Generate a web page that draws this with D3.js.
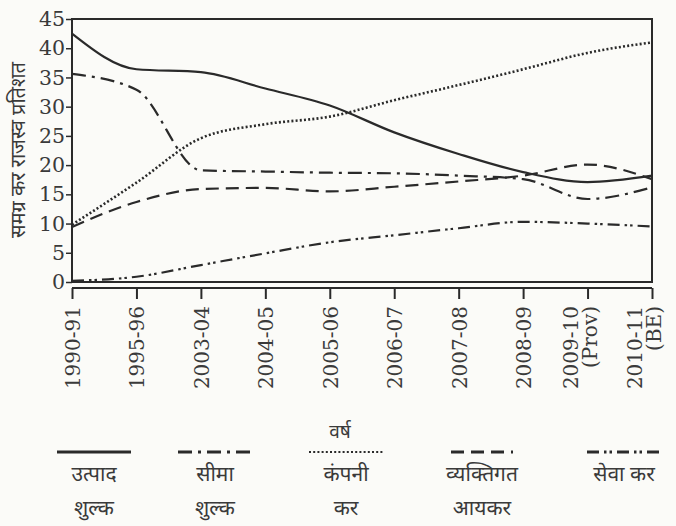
<!DOCTYPE html>
<html>
<head>
<meta charset="utf-8">
<script src="https://cdn.jsdelivr.net/npm/d3@7"></script>
<style>
  body { margin: 0; background: #fbfbf8; }
  svg { display: block; }
  .tick-label { font-family: "DejaVu Serif", "Liberation Serif", serif; fill: #3a3a3a; }
  .hindi { font-family: "Noto Sans", "Lohit Devanagari", "FreeSerif", sans-serif; fill: #3a3a3a; }
</style>
</head>
<body>
<div id="chart"></div>
<script>

// data (% of gross tax revenue)
var years = ["1990-91", "1995-96", "2003-04", "2004-05", "2005-06",
             "2006-07", "2007-08", "2008-09", "2009-10", "2010-11"];
var yearNotes = ["", "", "", "", "", "", "", "", "(Prov)", "(BE)"];

var excise    = [42.5, 36.4, 35.9, 33.1, 30.2, 25.6, 21.9, 18.8, 17.1, 18.2];
var customs   = [35.6, 32.9, 19.1, 18.9, 18.7, 18.6, 18.2, 17.6, 14.2, 16.2];
var corporate = [9.8, 17.0, 24.6, 27.0, 28.3, 31.1, 33.7, 36.4, 39.2, 41.0];
var income    = [9.4, 13.7, 15.9, 16.1, 15.5, 16.3, 17.2, 18.2, 20.1, 17.6];
var service   = [0.2, 0.9, 2.9, 4.9, 6.8, 8.0, 9.2, 10.3, 10.0, 9.5];

var yTicks = [0, 5, 10, 15, 20, 25, 30, 35, 40, 45];

var seriesNames = [["उत्पाद", "शुल्क"], ["सीमा", "शुल्क"], ["कंपनी", "कर"],
                   ["व्यक्तिगत", "आयकर"], ["सेवा कर", ""]];
var seriesDash = ["none", "14,6,3,6", "2,2.2", "13,7", "12,5,2.5,3,2.5,5"];

var series = [excise, customs, corporate, income, service].map(function(vals, i) {
    return { name: seriesNames[i], dash: seriesDash[i],
             values: vals.map(function(v, j) { return { year: years[j], value: v }; }) };
});

var width = 676, height = 526;
var margin = { top: 19, right: 24, bottom: 244, left: 72 };
var w = width - margin.left - margin.right;
var h = height - margin.top - margin.bottom;

var svg = d3.select("#chart").append("svg")
    .attr("width", width)
    .attr("height", height);

var g = svg.append("g")
    .attr("transform", "translate(" + margin.left + "," + margin.top + ")");

var x = d3.scalePoint().domain(years).range([0, w]);
var y = d3.scaleLinear().domain([0, 45]).range([h, 0]);

// frame
g.append("rect")
    .attr("x", 0).attr("y", 0)
    .attr("width", w).attr("height", h)
    .attr("fill", "none")
    .attr("stroke", "#2a2a2a")
    .attr("stroke-width", 2);

// y axis
var yAxis = g.append("g")
    .call(d3.axisLeft(y).tickValues(yTicks).tickSize(6).tickSizeOuter(0));
yAxis.select(".domain").remove();
yAxis.selectAll("line").attr("stroke", "#2a2a2a").attr("stroke-width", 1.5);
yAxis.selectAll("text")
    .attr("class", "tick-label")
    .attr("x", -7)
    .style("font-size", "20.5px");

// x axis, drawn just under the frame
var xAxis = g.append("g")
    .attr("transform", "translate(0," + (h + 6) + ")")
    .call(d3.axisBottom(x).tickSize(11).tickSizeOuter(0));
xAxis.select(".domain").attr("stroke", "#2a2a2a").attr("stroke-width", 2)
    .attr("d", "M0,0H" + w);
xAxis.selectAll("line").attr("stroke", "#2a2a2a").attr("stroke-width", 2);
xAxis.selectAll("text").remove();

var xLabels = xAxis.selectAll(".xlab")
    .data(years)
    .enter().append("text")
    .attr("class", "tick-label")
    .style("font-size", "20px")
    .attr("text-anchor", "end")
    .attr("transform", function(d, i) {
        var off = yearNotes[i] ? -10 : 8;
        return "translate(" + (x(d) + off) + ",18) rotate(-90)";
    });

xLabels.append("tspan").text(function(d) { return d; });
xLabels.append("tspan")
    .attr("x", 0).attr("dy", "0.95em")
    .text(function(d, i) { return yearNotes[i]; });

// the series lines
var line = d3.line()
    .x(function(d) { return x(d.year); })
    .y(function(d) { return y(d.value); })
    .curve(d3.curveMonotoneX);

g.selectAll(".series")
    .data(series)
    .enter().append("path")
    .attr("class", "series")
    .attr("d", function(d) { return line(d.values); })
    .attr("fill", "none")
    .attr("stroke", "#2a2a2a")
    .attr("stroke-width", function(d) { return d.dash === "2,2.2" ? 2.6 : 2.2; })
    .attr("stroke-dasharray", function(d) { return d.dash; });

// axis titles
svg.append("text")
    .attr("class", "hindi")
    .attr("transform", "translate(25,150) rotate(-90)")
    .attr("text-anchor", "middle")
    .style("font-size", "20px")
    .text("समग्र कर राजस्व प्रतिशत");

svg.append("text")
    .attr("class", "hindi")
    .attr("x", 340).attr("y", 438)
    .attr("text-anchor", "middle")
    .style("font-size", "19px")
    .text("वर्ष");

// legend
var legendX = [94, 215, 346, 482, 624];
var legend = svg.selectAll(".legend")
    .data(series)
    .enter().append("g")
    .attr("class", "legend")
    .attr("transform", function(d, i) { return "translate(" + legendX[i] + ",0)"; });

legend.append("line")
    .attr("x1", function(d, i) { return i === 3 ? -31 : -37; })
    .attr("x2", function(d, i) { return i === 3 ? 31 : 37; })
    .attr("y1", 452).attr("y2", 452)
    .attr("stroke", "#2a2a2a")
    .attr("stroke-width", function(d) { return d.dash === "2,2.2" ? 2 : 2.8; })
    .attr("stroke-dasharray", function(d) { return d.dash; });

legend.append("text")
    .attr("class", "hindi")
    .attr("y", 481)
    .attr("text-anchor", "middle")
    .style("font-size", "21px")
    .text(function(d) { return d.name[0]; });

legend.append("text")
    .attr("class", "hindi")
    .attr("y", 515)
    .attr("text-anchor", "middle")
    .style("font-size", "21px")
    .text(function(d) { return d.name[1]; });

</script>
</body>
</html>
